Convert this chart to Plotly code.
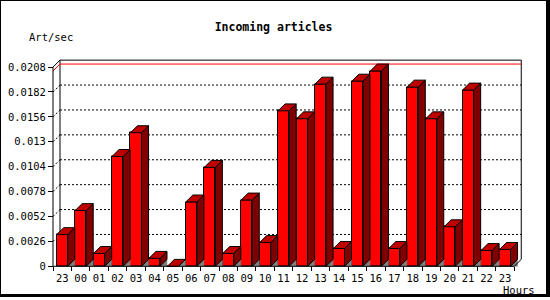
import plotly.graph_objects as go

# ---- data ----
hours = ["23", "00", "01", "02", "03", "04", "05", "06", "07", "08", "09", "10",
         "11", "12", "13", "14", "15", "16", "17", "18", "19", "20", "21", "22", "23"]
values = [0.00331, 0.00582, 0.00134, 0.01147, 0.01395, 0.00083, 0.0, 0.00672,
          0.01033, 0.00134, 0.00692, 0.00248, 0.01623, 0.0154, 0.01902, 0.00186,
          0.01933, 0.02039, 0.00186, 0.01871, 0.0154, 0.00413, 0.0184, 0.00165, 0.00176]
ytick_vals = [0, 0.0026, 0.0052, 0.0078, 0.0104, 0.013, 0.0156, 0.0182, 0.0208]
ytick_text = ["0", "0.0026", "0.0052", "0.0078", "0.0104", "0.013", "0.0156", "0.0182", "0.0208"]

# ---- geometry (pixels) ----
W, H = 550, 300
X0PX, Y0PX = 53, 269          # front-left axis corner
SX, SY = 18.45, 9676.0        # px per category, px per unit
DL, DR, DT, DB = 50, 524, 58, 272   # plot domain in px
DEPTH = 7
DX, DY = DEPTH / SX, DEPTH / SY
BW = 0.6

n = len(values)
cats = list(range(n))
xl_edge, xr_edge = -0.5, n - 0.5
TOP = ytick_vals[-1]
VMAX = max(values)

FONT = "DejaVu Sans Mono"

fig = go.Figure()

# front faces
fig.add_trace(go.Bar(x=cats, y=values, width=BW, marker=dict(color="#FF0000", line=dict(color="black", width=1)),
                     hoverinfo="skip"))

gx, gy, sx_, sy_, tx, ty = [], [], [], [], [], []
for k, v in zip(cats, values):
    a, b = k - BW / 2, k + BW / 2
    gx += [b, b + DX, b + DX, b, None]
    gy += [0, DY, 0, 0, None]
    sx_ += [b, b + DX, b + DX, b, b, None]
    sy_ += [0, DY, v + DY, v, 0, None]
    tx += [a, a + DX, b + DX, b, a, None]
    ty += [v, v + DY, v + DY, v, v, None]

fig.add_trace(go.Scatter(x=gx, y=gy, mode="lines", fill="toself", fillcolor="#808080",
                         line=dict(color="#808080", width=0.5), hoverinfo="skip"))
fig.add_trace(go.Scatter(x=sx_, y=sy_, mode="lines", fill="toself", fillcolor="#800000",
                         line=dict(color="black", width=1), hoverinfo="skip"))
fig.add_trace(go.Scatter(x=tx, y=ty, mode="lines", fill="toself", fillcolor="#C00000",
                         line=dict(color="black", width=1), hoverinfo="skip"))

# front frame lines
fig.add_trace(go.Scatter(
    x=[xl_edge + DX, xl_edge, xl_edge, xr_edge, xr_edge + DX],
    y=[TOP + DY, TOP, 0, 0, DY],
    mode="lines", line=dict(color="black", width=1), hoverinfo="skip"))

shapes = []
# back frame
for (x0, y0, x1, y1) in [(xl_edge + DX, TOP + DY, xr_edge + DX, TOP + DY),
                         (xl_edge + DX, DY, xl_edge + DX, TOP + DY),
                         (xr_edge + DX, DY, xr_edge + DX, TOP + DY)]:
    shapes.append(dict(type="line", xref="x", yref="y", x0=x0, y0=y0, x1=x1, y1=y1,
                       line=dict(color="black", width=1), layer="below"))
# dotted grid
for v in ytick_vals[1:-1]:
    shapes.append(dict(type="line", xref="x", yref="y", x0=xl_edge + DX, y0=v + DY, x1=xr_edge + DX, y1=v + DY,
                       line=dict(color="black", width=1, dash="2px,2px"), layer="below"))
    shapes.append(dict(type="line", xref="x", yref="y", x0=xl_edge, y0=v, x1=xl_edge + DX, y1=v + DY,
                       line=dict(color="black", width=1, dash="2px,2px"), layer="below"))
# max line
shapes.append(dict(type="line", xref="x", yref="y", x0=xl_edge + DX, y0=VMAX + DY, x1=xr_edge + DX, y1=VMAX + DY,
                   line=dict(color="#FF0000", width=1), layer="below"))
shapes.append(dict(type="line", xref="x", yref="y", x0=xl_edge, y0=VMAX, x1=xl_edge + DX, y1=VMAX + DY,
                   line=dict(color="#FF0000", width=1), layer="below"))
# outer border with shadow
shapes.append(dict(type="rect", xref="paper", yref="paper", x0=0, y0=0, x1=1, y1=1,
                   fillcolor="black", line=dict(width=0), layer="below"))
shapes.append(dict(type="rect", xref="paper", yref="paper", x0=1 / W, y0=1 - 297 / H, x1=546 / W, y1=1 - 1 / H,
                   fillcolor="white", line=dict(width=0), layer="below"))

fig.update_layout(
    width=W, height=H,
    margin=dict(l=0, r=0, t=0, b=0, pad=0),
    paper_bgcolor="white", plot_bgcolor="rgba(0,0,0,0)",
    showlegend=False, bargap=0,
    font=dict(family=FONT, size=10.5, color="black"),
    title=dict(text="Incoming articles", x=273.5 / W, xanchor="center", y=1 - 27 / H, yanchor="middle",
               font=dict(family=FONT, size=11.5, color="black", weight="bold")),
    xaxis=dict(domain=[DL / W, DR / W],
               range=[xl_edge - (X0PX - DL) / SX, xl_edge + (DR - X0PX) / SX],
               anchor="free", position=1 - Y0PX / H,
               showgrid=False, zeroline=False, showline=False,
               tickmode="array", tickvals=cats, ticktext=hours,
               ticks="outside", ticklen=2, tickcolor="rgba(0,0,0,0)",
               minor=dict(tickmode="array", tickvals=[c - 0.5 for c in cats] + [n - 0.5],
                          ticks="outside", ticklen=4, tickcolor="black", tickwidth=1, showgrid=False),
               tickfont=dict(family=FONT, size=10.5, color="black")),
    yaxis=dict(domain=[1 - DB / H, 1 - DT / H],
               range=[-(DB - Y0PX) / SY, (Y0PX - DT) / SY],
               anchor="free", position=X0PX / W,
               showgrid=False, zeroline=False, showline=False,
               tickmode="array", tickvals=ytick_vals, ticktext=ytick_text,
               ticks="outside", ticklen=5, tickcolor="black", tickwidth=1,
               tickfont=dict(family=FONT, size=10.5, color="black")),
    shapes=shapes,
    annotations=[
        dict(text="Art/sec", xref="paper", yref="paper", x=50.5 / W, y=1 - 37 / H, xanchor="center",
             yanchor="middle", showarrow=False, font=dict(family=FONT, size=10.5, color="black")),
        dict(text="Hours", xref="paper", yref="paper", x=519 / W, y=1 - 293 / H, xanchor="center",
             yanchor="middle", showarrow=False, font=dict(family=FONT, size=10.5, color="black")),
    ],
)

fig.write_html("out.html")
